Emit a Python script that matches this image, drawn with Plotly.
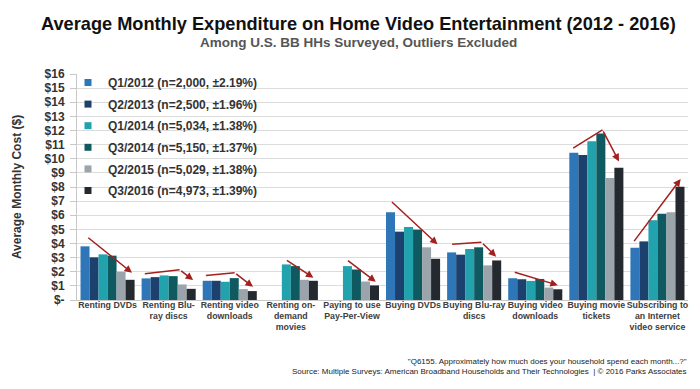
import plotly.graph_objects as go

categories = ["Renting DVDs", "Renting Blu-<br>ray discs", "Renting video<br>downloads",
              "Renting on-<br>demand<br>movies", "Paying to use<br>Pay-Per-View", "Buying DVDs",
              "Buying Blu-ray<br>discs", "Buying video<br>downloads", "Buying movie<br>tickets",
              "Subscribing to<br>an Internet<br>video service"]

series_names = ["Q1/2012 (n=2,000, \u00b12.19%)", "Q2/2013 (n=2,500, \u00b11.96%)",
                "Q1/2014 (n=5,034, \u00b11.38%)", "Q3/2014 (n=5,150, \u00b11.37%)",
                "Q2/2015 (n=5,029, \u00b11.38%)", "Q3/2016 (n=4,973, \u00b11.39%)"]

q1_2012 = [3.80, 1.53, 1.36, None, None, 6.21, 3.37, 1.54, 10.43, 3.70]
q2_2013 = [3.02, 1.62, 1.36, None, None, 4.84, 3.21, 1.47, 10.27, 4.15]
q1_2014 = [3.23, 1.74, 1.29, 2.52, 2.40, 5.17, 3.61, 1.35, 11.24, 5.65]
q3_2014 = [3.14, 1.69, 1.55, 2.40, 2.16, 4.98, 3.73, 1.49, 11.79, 6.10]
q2_2015 = [2.00, 1.10, 0.77, 1.43, 1.31, 3.73, 2.45, 0.88, 8.63, 6.21]
q3_2016 = [1.43, 0.79, 0.63, 1.36, 1.03, 2.92, 2.80, 0.76, 9.37, 8.02]

tick_vals = list(range(0, 17))
tick_text = ["$-"] + ["$%d" % v for v in range(1, 17)]

colors = ["#2E76B8", "#1C416F", "#22A2AD", "#0F5A61", "#9CA4AB", "#24292F"]

# trend arrows: (category index, start offset, start value, corner offset, corner value, end offset, end value)
arrows = [
    (0, -0.34, 4.49, None, None, 0.40, 1.93),
    (1, -0.39, 1.86, 0.18, 2.14, 0.40, 1.41),
    (2, -0.39, 1.74, 0.08, 1.93, 0.38, 0.94),
    (3, -0.09, 2.87, None, None, 0.37, 1.58),
    (4, -0.09, 2.87, None, None, 0.39, 1.29),
    (5, -0.37, 7.04, None, None, 0.40, 3.94),
    (6, -0.36, 3.94, 0.12, 4.08, 0.36, 3.07),
    (7, -0.36, 2.00, None, None, 0.37, 1.05),
    (8, -0.38, 10.75, 0.10, 12.05, 0.37, 9.81),
    (9, -0.40, 4.06, None, None, 0.38, 8.57),
]

FONT = "Liberation Sans, Arial, sans-serif"

W, H = 700, 389
ml, mr, mt, mb = 69, 20, 66, 97
ph = H - mt - mb
pw = W - ml - mr
def py(pix):
    return (H - mb - pix) / ph
def px(pix):
    return (pix - ml) / pw

fig = go.Figure()
for name, vals, col in zip(series_names,
                           [q1_2012, q2_2013, q1_2014, q3_2014, q2_2015, q3_2016], colors):
    fig.add_trace(go.Bar(x=categories, y=vals, name=name, marker_color=col,
                         marker_line_width=0, showlegend=False))
# legend entries (small square swatches)
for name, col in zip(series_names, colors):
    fig.add_trace(go.Scatter(x=[None], y=[None], mode="markers", name="<b>%s</b>" % name,
                             marker=dict(symbol="square", size=7, color=col),
                             legendgroup=name, showlegend=True))

arrow_col = "#A3201F"
shapes = [dict(type="rect", xref="paper", yref="paper", x0=px(75), x1=px(272),
               y0=py(204), y1=py(70), fillcolor="white", line=dict(width=0),
               layer="between")]
annotations = []
for ci, sx, sy, cx, cy, ex, ey in arrows:
    if cx is not None:
        shapes.append(dict(type="line", xref="x", yref="y", x0=ci + sx, y0=sy,
                           x1=ci + cx, y1=cy, line=dict(color=arrow_col, width=1.5)))
        fx, fy = ci + cx, cy
    else:
        fx, fy = ci + sx, sy
    annotations.append(dict(x=ci + ex, y=ey, ax=fx, ay=fy, xref="x", yref="y",
                            axref="x", ayref="y", text="", showarrow=True,
                            arrowhead=2, arrowsize=1, arrowwidth=1.5,
                            arrowcolor=arrow_col))

annotations.append(dict(text="<b>Average Monthly Expenditure on Home Video Entertainment (2012 - 2016)</b>",
                        xref="paper", yref="paper", x=px(350), y=py(16), xanchor="center", yanchor="middle",
                        showarrow=False, font=dict(size=18.2, color="#111111", family=FONT)))
annotations.append(dict(text="<b>Among U.S. BB HHs Surveyed, Outliers Excluded</b>",
                        xref="paper", yref="paper", x=px(350), y=py(35), xanchor="center", yanchor="middle",
                        showarrow=False, font=dict(size=13.5, color="#555555", family=FONT)))
annotations.append(dict(text="\"Q6155. Approximately how much does your household spend each month...?\"<br>"
                             "Source: Multiple Surveys: American Broadband Households and Their Technologies  | \u00a9 2016 Parks Associates",
                        xref="paper", yref="paper", x=px(681), y=py(358), xanchor="right", yanchor="middle",
                        align="right", showarrow=False,
                        font=dict(size=8, color="#222222", family=FONT)))

fig.update_layout(
    width=W, height=H,
    margin=dict(l=ml, r=mr, t=mt, b=mb),
    paper_bgcolor="white", plot_bgcolor="white",
    barmode="group", bargap=0.115, bargroupgap=0,
    font=dict(family=FONT, color="#333333"),
    showlegend=True,
    legend=dict(x=px(60), y=py(60), xanchor="left", yanchor="top",
                bgcolor="rgba(0,0,0,0)", borderwidth=0, tracegroupgap=2.6,
                font=dict(size=12, color="#333333", family=FONT),
                traceorder="grouped", itemwidth=30),
    xaxis=dict(showgrid=False, showline=True, linecolor="#C8C8C8", linewidth=1,
               tickfont=dict(size=8.8, color="#404040", family=FONT),
               ticks="", tickangle=0, range=[-0.5, 9.5],
               tickvals=categories, ticktext=["<b>%s</b>" % c for c in categories]),
    yaxis=dict(range=[0, 16], tickvals=tick_vals, ticktext=["<b>%s</b>" % t for t in tick_text],
               showgrid=True, gridcolor="#DCDCDC", gridwidth=1,
               showline=True, linecolor="#C8C8C8", linewidth=1,
               ticks="outside", ticklen=6, tickcolor="#C8C8C8",
               ticklabelstandoff=3,
               tickfont=dict(size=12, color="#333333", family=FONT),
               zeroline=False, automargin=False,
               title=dict(text="<b>Average Monthly Cost ($)</b>", standoff=20,
                          font=dict(size=12, color="#333333", family=FONT))),
    shapes=shapes,
    annotations=annotations,
)
try:
    fig.layout.xaxis.ticklabelstandoff = -4
except ValueError:
    pass

fig.write_html("out.html")
